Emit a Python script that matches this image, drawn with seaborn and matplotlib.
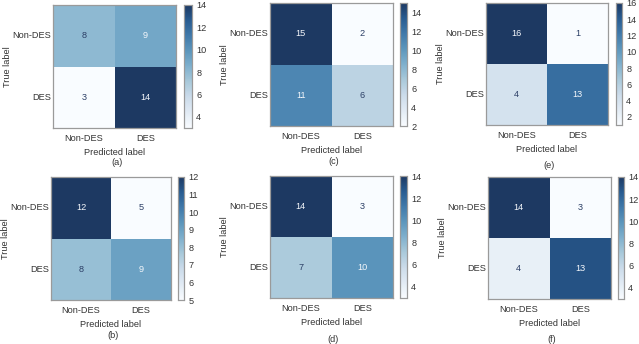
import colorsys
import numpy as np
import pandas as pd
import matplotlib
matplotlib.use("Agg")
import matplotlib.pyplot as plt
from matplotlib.colors import ListedColormap
import seaborn as sns

sns.set_style("white")
plt.rcParams["font.family"] = ["Liberation Sans", "DejaVu Sans"]

classes = ["Non-DES", "DES"]

# Confusion matrices (rows = true label, columns = predicted label)
cm_a = [[8, 9], [3, 14]]
cm_b = [[12, 5], [8, 9]]
cm_c = [[15, 2], [11, 6]]
cm_d = [[14, 3], [7, 10]]
cm_e = [[16, 1], [4, 13]]
cm_f = [[14, 3], [4, 13]]

panel_names = ["(a)", "(c)", "(e)", "(b)", "(d)", "(f)"]
matrices = [cm_a, cm_c, cm_e, cm_b, cm_d, cm_f]
cbar_ticks = [
    [4, 6, 8, 10, 12, 14],
    [2, 4, 6, 8, 10, 12, 14],
    [2, 4, 6, 8, 10, 12, 14, 16],
    [5, 6, 7, 8, 9, 10, 11, 12],
    [4, 6, 8, 10, 12, 14],
    [4, 6, 8, 10, 12, 14],
]

W, H = 639, 344
fig = plt.figure(figsize=(W / 100, H / 100), dpi=100)

# pixel boxes: heatmap (left, top, right, bottom), colorbar (left, right), label y
layout = [
    ((53, 5, 176, 128), (184, 192), 163),
    ((270, 3, 393, 126), (400, 407), 162),
    ((486, 3, 608, 125), (616, 622), 165),
    ((51, 177, 171, 300), (178, 184), 335),
    ((270, 176, 393, 298), (400, 407), 339),
    ((488, 177, 611, 299), (618, 624), 339),
]


def rect(l, t, r, b):
    return [l / W, 1 - b / H, (r - l) / W, (b - t) / H]


# a softer, slightly greyed version of the Blues map
base = plt.get_cmap("Blues")
soft = []
for x in np.linspace(0, 1, 256):
    r, g, b, _ = base(x)
    h, s, v = colorsys.rgb_to_hsv(r, g, b)
    soft.append(colorsys.hsv_to_rgb(h, s * 0.76, v * (1 - 0.08 * x)))
cmap = ListedColormap(soft, name="soft_blues")

edge = "#9a9a9a"
txt = "#333333"
fs = 6.6

for name, cm, ticks, (hm, cb, ly) in zip(panel_names, matrices, cbar_ticks, layout):
    df = pd.DataFrame(cm, index=classes, columns=classes)
    ax = fig.add_axes(rect(*hm))
    cax = fig.add_axes(rect(cb[0], hm[1], cb[1], hm[3]))
    vmin, vmax = df.values.min(), df.values.max()
    sns.heatmap(df, ax=ax, cbar_ax=cax, cmap=cmap, vmin=vmin, vmax=vmax,
                annot=False, square=False)
    thresh = (vmin + vmax) / 2
    for i in range(2):
        for j in range(2):
            v = df.values[i, j]
            col = "#f4f7fb" if v > thresh else "#2c3f66"
            ax.text(j + 0.5, i + 0.5, str(v), ha="center", va="center",
                    fontsize=fs, color=col)
    for s in ax.spines.values():
        s.set_visible(True)
        s.set_color(edge)
        s.set_linewidth(0.9)
    ax.tick_params(axis="y", length=0, labelsize=fs, pad=1.2, colors=txt)
    ax.tick_params(axis="x", length=0, labelsize=fs, pad=4, colors=txt)
    ax.set_yticklabels(classes, rotation=0)
    ax.set_xticklabels(classes, rotation=0)
    ax.set_xlabel("Predicted label", fontsize=fs, color=txt, labelpad=4)
    ax.set_ylabel("True label", fontsize=fs, color=txt, labelpad=0.5)
    cax.set_yticks(ticks)
    cax.tick_params(length=0, labelsize=fs, pad=3, colors=txt)
    cax.set_frame_on(True)
    for s in cax.spines.values():
        s.set_visible(True)
        s.set_color(edge)
        s.set_linewidth(0.8)
    fig.text(((hm[0] + hm[2]) / 2 + 2) / W, 1 - ly / H, name, ha="center",
             va="center", fontsize=fs, color=txt)

fig.savefig("out.png", dpi=100, facecolor="white")
